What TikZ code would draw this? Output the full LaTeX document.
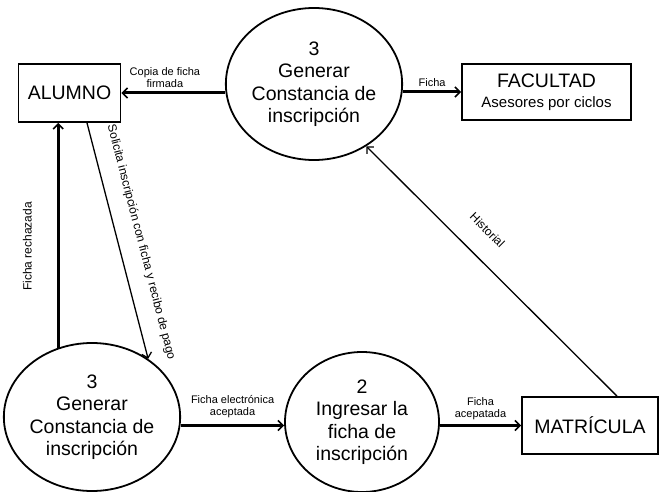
\documentclass[tikz,border=0pt]{standalone}
\usepackage{fontspec}
\setmainfont{Liberation Sans}
\usetikzlibrary{arrows.meta,shapes.geometric}
\begin{document}
\begin{tikzpicture}[x=1pt,y=-1pt,
  box/.style={draw,line width=1.8pt,inner sep=0pt},
  proc/.style={draw,ellipse,line width=1.8pt,inner sep=0pt,align=center,font=\fontsize{19.5}{22.5}\selectfont},
  flow/.style={line width=3pt,-{Straight Barb[length=5pt,width=10pt,line width=1.6pt]}},
  thinflow/.style={line width=1.3pt,-{Straight Barb[length=5pt,width=10pt,line width=1.3pt]}},
  lbl/.style={font=\fontsize{11}{12}\selectfont,align=center,inner sep=1pt},
  slbl/.style={font=\fontsize{12}{13}\selectfont,inner sep=1pt}]
\useasboundingbox (0,0) rectangle (666,492);
% entities
\node[box,minimum width=102pt,minimum height=58pt,font=\fontsize{19.5}{22}\selectfont] (alumno) at (69.5,93) {ALUMNO};
\node[box,minimum width=169pt,minimum height=56pt,align=center,font=\fontsize{15}{20}\selectfont] (facultad) at (546.5,92)
  {{\fontsize{19.5}{20}\selectfont FACULTAD}\\Asesores por ciclos};
\node[box,minimum width=136pt,minimum height=57pt,font=\fontsize{19.5}{22}\selectfont] (matricula) at (590,425.5) {MATRÍCULA};
% processes
\node[proc,minimum width=156pt,minimum height=152pt] (top) at (314,84) {3\\Generar\\Constancia de\\inscripción};
\node[proc,minimum width=158pt,minimum height=148pt] (gen) at (92,417) {3\\Generar\\Constancia de\\inscripción};
\node[proc,minimum width=154pt,minimum height=140pt] (ing) at (362,422) {2\\Ingresar la\\ficha de\\inscripción};
% flows
\draw[flow] (top.west |- alumno.east) -- (alumno.east)
  node[lbl,pos=0.58,above=3pt] {Copia de ficha\\firmada};
\draw[flow] (top.east |- facultad.west) -- (facultad.west)
  node[lbl,midway,above=3pt] {Ficha};
\draw[flow] (gen.east |- matricula.west) -- (ing.west |- matricula.west)
  node[lbl,midway,above=5pt] {Ficha electrónica\\aceptada};
\draw[flow] (ing.east |- matricula.west) -- (matricula.west)
  node[lbl,midway,above=3pt] {Ficha\\acepatada};
\draw[flow] (gen.116) -- (gen.116 |- alumno.south)
  node[slbl,pos=0.45,sloped,above=24pt] {Ficha rechazada};
\draw[thinflow] ([xshift=17.5pt]alumno.south) -- (gen.46)
  node[slbl,pos=0.53,sloped,above=15pt] {Solicita inscripción con ficha y recibo de pago};
\draw[thinflow] ([xshift=27pt]matricula.north) -- (top.-50)
  node[slbl,pos=0.59,sloped,above=20pt] {Historial};
\end{tikzpicture}
\end{document}
